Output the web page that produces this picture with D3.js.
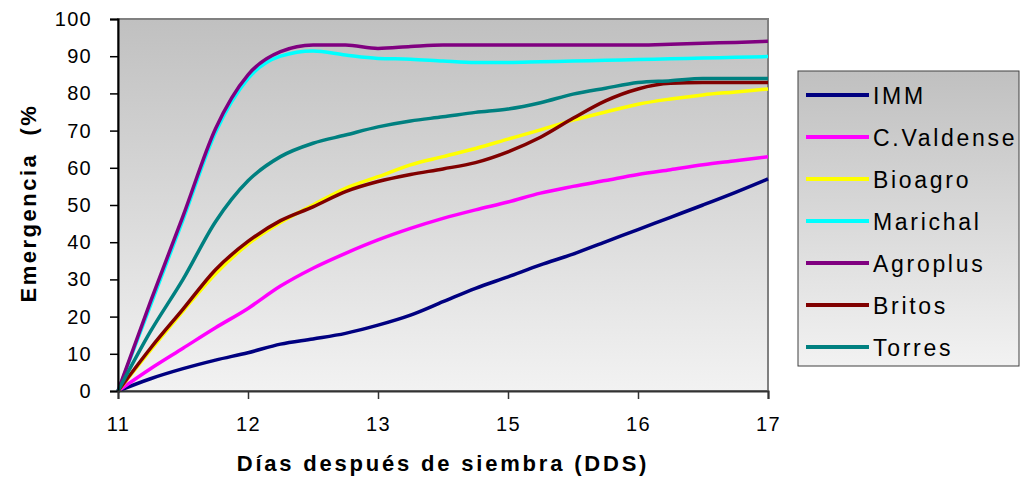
<!DOCTYPE html>
<html>
<head>
<meta charset="utf-8">
<script src="https://cdn.jsdelivr.net/npm/d3@7"></script>
<style>
  body { margin: 0; background: #fff; }
  text { font-family: Arial, "Liberation Sans", sans-serif; }
</style>
</head>
<body>
<div id="chart"></div>
<script>
// etiquetas del eje x (categorias) y posiciones de los puntos (en unidades de categoria)
const etiquetasX = ["11", "12", "13", "15", "16", "17"];
const posiciones = [0, 0.25, 0.5, 0.75, 1, 1.25, 1.5, 1.75, 2, 2.25, 2.5, 2.75, 3, 3.25, 3.5, 3.75, 4, 4.25, 4.5, 4.75, 5];
const ticksY = [0, 10, 20, 30, 40, 50, 60, 70, 80, 90, 100];

const nombres = ["IMM", "C.Valdense", "Bioagro", "Marichal", "Agroplus", "Britos", "Torres"];
const colores = ["#000080", "#ff00ff", "#ffff00", "#00ffff", "#800080", "#800000", "#008080"];

const imm = [0, 3.3, 6, 8.3, 10.3, 12.6, 14, 15.5, 17.7, 20.4, 24, 27.6, 30.7, 33.9, 36.8, 40.1, 43.4, 46.7, 50, 53.4, 57];
const valdense = [0, 6, 11.5, 17, 22.2, 28.2, 33, 37, 40.6, 43.7, 46.4, 48.7, 50.8, 53.2, 55, 56.6, 58.2, 59.5, 60.8, 61.9, 63];
const bioagro = [0, 11, 21.5, 31.5, 39.5, 45.3, 50, 54.5, 57.6, 60.8, 63, 65.2, 67.7, 70.2, 72.8, 75, 77.1, 78.5, 79.6, 80.4, 81.2];
const marichal = [0, 23, 46, 69.5, 84, 90, 91.4, 90.3, 89.4, 89.2, 88.7, 88.3, 88.3, 88.5, 88.7, 88.9, 89.1, 89.3, 89.5, 89.7, 89.9];
const agroplus = [0, 24, 47, 70.5, 85, 91.2, 93, 93, 92.1, 92.6, 93, 93, 93, 93, 93, 93, 93, 93.2, 93.5, 93.7, 94];
const britos = [0, 11.5, 22, 32.6, 40.2, 45.8, 49.5, 53.6, 56.3, 58.2, 59.7, 61.4, 64.3, 68.2, 73.3, 78, 81.2, 82.7, 82.9, 82.9, 82.9];
const torres = [0, 16, 30, 45.5, 56.5, 63, 66.6, 68.8, 71, 72.6, 73.7, 74.9, 75.8, 77.5, 79.8, 81.4, 82.9, 83.4, 84, 84, 84];

const series = [imm, valdense, bioagro, marichal, agroplus, britos, torres];

const width = 1024;
const height = 483;
const plot = { left: 118, top: 19, right: 768, bottom: 391 };

const svg = d3.select("#chart")
  .append("svg")
  .attr("width", width)
  .attr("height", height);

const defs = svg.append("defs");
const grad = defs.append("linearGradient")
  .attr("id", "fondo")
  .attr("x1", 0).attr("y1", 0)
  .attr("x2", 0).attr("y2", 1);
grad.append("stop").attr("offset", "0%").attr("stop-color", "#c0c0c0");
grad.append("stop").attr("offset", "100%").attr("stop-color", "#f2f2f2");

const x = d3.scaleLinear().domain([0, 5]).range([plot.left, plot.right]);
const y = d3.scaleLinear().domain([0, 100]).range([plot.bottom, plot.top]);

// area de trazado
svg.append("rect")
  .attr("x", plot.left)
  .attr("y", plot.top)
  .attr("width", plot.right - plot.left)
  .attr("height", plot.bottom - plot.top)
  .attr("fill", "url(#fondo)")
  .attr("stroke", "#808080")
  .attr("stroke-width", 2);

// lineas
const line = d3.line()
  .x((d, i) => x(posiciones[i]))
  .y(d => y(d))
  .curve(d3.curveMonotoneX);

svg.selectAll("path.serie")
  .data(series)
  .enter()
  .append("path")
  .attr("class", "serie")
  .attr("d", d => line(d))
  .attr("fill", "none")
  .attr("stroke", (d, i) => colores[i])
  .attr("stroke-width", 3.5)
  .attr("stroke-linejoin", "round");

// eje y
const ejeY = svg.append("g")
  .attr("transform", `translate(${plot.left},0)`)
  .call(d3.axisLeft(y).tickValues(ticksY).tickSize(8).tickPadding(18));
ejeY.select(".domain").attr("stroke", "#000").attr("stroke-width", 2);
ejeY.selectAll(".tick line").attr("stroke", "#000").attr("stroke-width", 1.5);
ejeY.selectAll("text")
  .attr("font-size", 20)
  .attr("font-family", "Arial, 'Liberation Sans', sans-serif")
  .attr("letter-spacing", 1.3)
  .attr("fill", "#000");

// eje x
const ejeX = svg.append("g")
  .attr("transform", `translate(0,${plot.bottom})`)
  .call(d3.axisBottom(x).tickValues([0, 1, 2, 3, 4, 5]).tickFormat(i => etiquetasX[i]).tickSize(8).tickPadding(18));
ejeX.select(".domain").attr("stroke", "#333").attr("stroke-width", 2);
ejeX.selectAll(".tick line").attr("stroke", "#333").attr("stroke-width", 1.5);
ejeX.selectAll("text")
  .attr("font-size", 20)
  .attr("font-family", "Arial, 'Liberation Sans', sans-serif")
  .attr("letter-spacing", 1.3)
  .attr("fill", "#000");

// titulos de ejes
svg.append("text")
  .attr("x", 443)
  .attr("y", 471)
  .attr("text-anchor", "middle")
  .attr("font-size", 22)
  .attr("font-weight", "bold")
  .attr("letter-spacing", 2.8)
  .text("Días después de siembra (DDS)");

svg.append("text")
  .attr("transform", "translate(36,203) rotate(-90)")
  .attr("text-anchor", "middle")
  .attr("font-size", 22)
  .attr("font-weight", "bold")
  .attr("letter-spacing", 2.5)
  .attr("xml:space", "preserve")
  .style("white-space", "pre")
  .text("Emergencia  (%");

// leyenda
const leyenda = svg.append("g");
leyenda.append("rect")
  .attr("x", 798)
  .attr("y", 71)
  .attr("width", 221)
  .attr("height", 295)
  .attr("fill", "url(#fondo)")
  .attr("stroke", "#404040")
  .attr("stroke-width", 1);

const items = leyenda.selectAll("g.item")
  .data(nombres)
  .enter()
  .append("g")
  .attr("class", "item")
  .attr("transform", (d, i) => `translate(0,${95 + i * 42})`);

items.append("line")
  .attr("x1", 806)
  .attr("x2", 869)
  .attr("stroke", (d, i) => colores[i])
  .attr("stroke-width", 4);

items.append("text")
  .attr("x", 873)
  .attr("y", 8.5)
  .attr("font-size", 23)
  .attr("letter-spacing", 2.7)
  .text(d => d);
</script>
</body>
</html>
